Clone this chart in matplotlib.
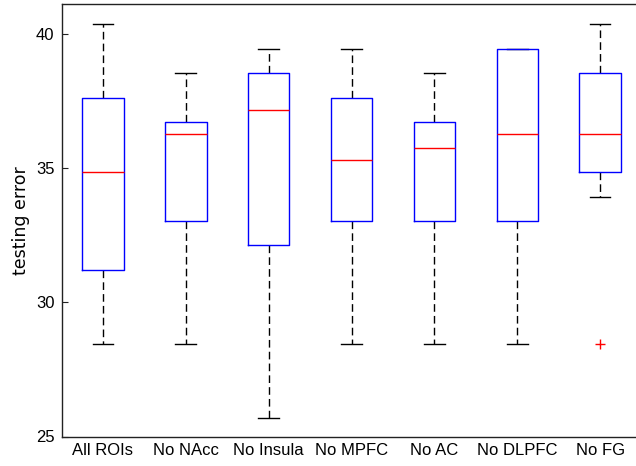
import matplotlib
matplotlib.use("Agg")
import matplotlib.pyplot as plt

labels = ["All ROIs", "No NAcc", "No Insula", "No MPFC", "No AC", "No DLPFC", "No FG"]
whisk_low = [28.46, 28.46, 25.68, 28.46, 28.46, 28.46, 33.91]
q1 = [31.19, 33.03, 32.12, 33.03, 33.03, 33.03, 34.87]
med = [34.85, 36.26, 37.15, 35.31, 35.75, 36.26, 36.26]
q3 = [37.60, 36.71, 38.55, 37.60, 36.71, 39.44, 38.55]
whisk_high = [40.37, 38.55, 39.44, 39.44, 38.55, 39.44, 40.37]
outliers = [[], [], [], [], [], [], [28.46]]
yticks = [25, 30, 35, 40]

plt.rcParams['font.family'] = ['Liberation Sans', 'DejaVu Sans']

fig = plt.figure(figsize=(6.36, 4.66), dpi=100)
W, H = 636, 466
ax = fig.add_axes([61.5 / W, (H - 436.5) / H, 580 / W, 432.5 / H])

stats = []
for i, lab in enumerate(labels):
    stats.append(dict(label=lab, whislo=whisk_low[i], q1=q1[i], med=med[i],
                      q3=q3[i], whishi=whisk_high[i], fliers=outliers[i]))

ax.bxp(stats, positions=range(1, len(labels) + 1), widths=0.5,
       showfliers=True,
       boxprops=dict(color=(0, 0, 1), linewidth=1.0, zorder=4),
       medianprops=dict(color=(1, 0, 0), linewidth=1.0, zorder=5),
       whiskerprops=dict(color='black', linewidth=1.0, linestyle=(0, (5.5, 3.0)), zorder=2),
       capprops=dict(color='black', linewidth=1.0, zorder=2),
       capwidths=0.25,
       flierprops=dict(marker='+', markeredgecolor=(1, 0, 0), markersize=7,
                       linestyle='none', markeredgewidth=1.0))

ax.set_xlim(0.5, len(labels) + 0.5)
ax.set_ylim(25, 41.11)
ax.set_yticks(yticks)
ax.set_yticklabels([str(t) for t in yticks])
ax.set_ylabel("testing error", fontsize=12.5, family=['DejaVu Sans'], labelpad=4)

ax.tick_params(axis='y', direction='in', length=4, width=0.8, left=True, right=True,
               labelsize=12, pad=5, color='#222222')
ax.tick_params(axis='x', length=0, labelsize=12, pad=5)
for s in ax.spines.values():
    s.set_linewidth(1.0)
    s.set_color('#222222')

fig.savefig("out.png", dpi=100)
